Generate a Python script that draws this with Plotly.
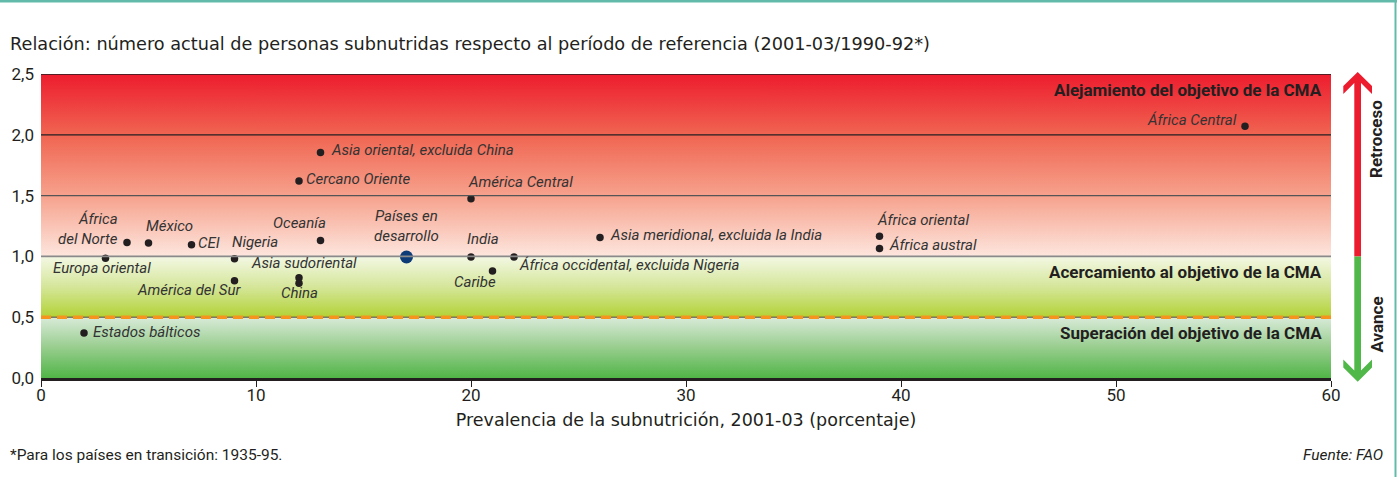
import plotly.graph_objects as go

# ---------------- data ----------------
regions = [
    "Estados bálticos", "Europa oriental", "África del Norte", "México", "CEI",
    "Nigeria", "América del Sur", "Asia sudoriental", "China", "Cercano Oriente",
    "Oceanía", "Asia oriental, excluida China", "América Central", "India",
    "Caribe", "África occidental, excluida Nigeria",
    "Asia meridional, excluida la India", "África oriental", "África austral",
    "África Central",
]
prevalence = [2, 3, 4, 5, 7, 9, 9, 12, 12, 12, 13, 13, 20, 20, 21, 22, 26, 39, 39, 56]
ratio = [0.37, 0.985, 1.115, 1.11, 1.095, 0.98, 0.80, 0.825, 0.78, 1.62,
         1.13, 1.855, 1.475, 0.995, 0.88, 0.995, 1.155, 1.165, 1.065, 2.07]

world_name = "Países en\ndesarrollo"
world_prevalence = [17]
world_ratio = [0.995]

x_ticks = [0, 10, 20, 30, 40, 50, 60]
y_ticks = [0.0, 0.5, 1.0, 1.5, 2.0, 2.5]
y_ticklabels = ["0,0", "0,5", "1,0", "1,5", "2,0", "2,5"]

band_labels = ["Alejamiento del objetivo de la CMA",
               "Acercamiento al objetivo de la CMA",
               "Superación del objetivo de la CMA"]
band_label_y = [2.37, 0.87, 0.37]

title_text = "Relación: número actual de personas subnutridas respecto al período de referencia (2001-03/1990-92*)"
x_title = "Prevalencia de la subnutrición, 2001-03 (porcentaje)"
footnote = "*Para los países en transición: 1935-95."
source = "Fuente: FAO"

# ---------------- layout geometry ----------------
W, H = 1397, 477
ML, MR, MT, MB = 41, 66, 74, 99
PW, PH = W - ML - MR, H - MT - MB
FONT = "Roboto"
WIDE = "DejaVu Sans"
DARK = "#231F20"
TXT = "#333333"


def px(xp):
    return (xp - ML) / PW


def py(yp):
    return (H - MB - yp) / PH


# label offsets (pixels): xanchor, xshift, yshift
label_pos = {
    "Estados bálticos": ("left", 8, 1),
    "Europa oriental": ("center", -4, -10),
    "África del Norte": ("right", -8, 13),
    "México": ("left", -4, 17),
    "CEI": ("left", 5, 2),
    "Nigeria": ("left", -4, 17),
    "América del Sur": ("right", 7, -9),
    "Asia sudoriental": ("center", 5, 15),
    "China": ("center", 0, -10),
    "Cercano Oriente": ("left", 6, 2),
    "Oceanía": ("center", -21, 18),
    "Asia oriental, excluida China": ("left", 9, 2),
    "América Central": ("left", -4, 17),
    "India": ("left", -5, 18),
    "Caribe": ("right", 4, -11),
    "África occidental, excluida Nigeria": ("left", 4, -8),
    "Asia meridional, excluida la India": ("left", 9, 3),
    "África oriental": ("left", -4, 16),
    "África austral": ("left", 8, 4),
    "África Central": ("right", -7, 6),
}
label_text = {"África del Norte": "África\ndel Norte"}
LABEL_SIZE = 15

fig = go.Figure()

# gradient background bands
bands = [
    (1.0, 2.5, [[0, "#FDE6DE"], [0.33, "#F6A28D"], [0.66, "#F06652"], [1, "#ED1C2E"]]),
    (0.5, 1.0, [[0, "#B2D235"], [0.5, "#D5E69A"], [1, "#F3F8E4"]]),
    (0.0, 0.5, [[0, "#50B547"], [0.5, "#98CD8E"], [1, "#D9EBD9"]]),
]
for lo, hi, cs in bands:
    fig.add_trace(go.Scatter(
        x=[0, 60, 60, 0, 0], y=[lo, lo, hi, hi, lo], mode="lines",
        line=dict(width=0), fill="toself",
        fillgradient=dict(type="vertical", colorscale=cs, start=lo, stop=hi),
        hoverinfo="skip", showlegend=False))

# horizontal reference lines
for yv, col, w in [(2.5, DARK, 1.6), (2.0, DARK, 1.2), (1.5, "#555555", 1.2),
                   (1.0, "#8A8A8A", 1.8), (0.5, "#444444", 1.0)]:
    fig.add_shape(type="line", xref="x", yref="y", x0=0, x1=60, y0=yv, y1=yv,
                  line=dict(color=col, width=w), layer="above")
fig.add_shape(type="line", xref="x", yref="y", x0=0, x1=60, y0=0.5, y1=0.5,
              line=dict(color="#F7941E", width=3.5, dash="10px,6px"), layer="above")

# points
fig.add_trace(go.Scatter(
    x=prevalence, y=ratio, mode="markers",
    marker=dict(size=7.5, color=DARK), hoverinfo="text", text=regions,
    showlegend=False, cliponaxis=False))
fig.add_trace(go.Scatter(
    x=world_prevalence, y=world_ratio, mode="markers",
    marker=dict(size=13, color="#0D3B78"), hoverinfo="skip",
    showlegend=False, cliponaxis=False))

annotations = []


def add_label(text, xv, yv, anchor, xs, ys):
    annotations.append(dict(
        x=xv, y=yv, xref="x", yref="y", text=text.replace("\n", "<br>"),
        showarrow=False, xanchor=anchor, yanchor="middle", xshift=xs, yshift=ys,
        align=anchor if anchor != "center" else "center", borderpad=0,
        font=dict(family=FONT, size=LABEL_SIZE, color=TXT, style="italic")))


for name, xv, yv in zip(regions, prevalence, ratio):
    anchor, xs, ys = label_pos[name]
    add_label(label_text.get(name, name), xv, yv, anchor, xs, ys)
add_label(world_name, world_prevalence[0], world_ratio[0], "center", 0, 31)

for t, yv in zip(band_labels, band_label_y):
    annotations.append(dict(
        x=px(1324), y=yv, xref="paper", yref="y", text=f"<b>{t}</b>",
        showarrow=False, xanchor="right", yanchor="middle",
        font=dict(family=FONT, size=17, color=DARK)))

# side arrow labels
annotations.append(dict(x=px(1376), y=py(139), xref="paper", yref="paper",
                        text="<b>Retroceso</b>", textangle=-90, showarrow=False,
                        xanchor="center", yanchor="middle",
                        font=dict(family=FONT, size=17, color=DARK)))
annotations.append(dict(x=px(1376), y=py(324.5), xref="paper", yref="paper",
                        text="<b>Avance</b>", textangle=-90, showarrow=False,
                        xanchor="center", yanchor="middle",
                        font=dict(family=FONT, size=17, color=DARK)))

# title, footnote, source
annotations.append(dict(x=px(8), y=py(44), xref="paper", yref="paper", text=title_text,
                        showarrow=False, xanchor="left", yanchor="middle",
                        font=dict(family=WIDE, size=17.7, color=DARK)))
annotations.append(dict(x=px(8), y=py(455), xref="paper", yref="paper", text=footnote,
                        showarrow=False, xanchor="left", yanchor="middle",
                        font=dict(family=FONT, size=15.5, color=DARK)))
annotations.append(dict(x=px(1385), y=py(455), xref="paper", yref="paper", text=source,
                        showarrow=False, xanchor="right", yanchor="middle",
                        font=dict(family=FONT, size=15.5, color=DARK, style="italic")))


def path(points):
    return "M " + " L ".join(f"{px(a):.5f},{py(b):.5f}" for a, b in points) + " Z"


red_arrow = [(1357.7, 72), (1372, 86), (1372, 94), (1361, 83), (1361, 256.5),
             (1354.3, 256.5), (1354.3, 83), (1343.3, 94), (1343.3, 86)]
green_arrow = [(1357.7, 381.7), (1372, 367.5), (1372, 359.5), (1361, 370.5), (1361, 256.5),
               (1354.3, 256.5), (1354.3, 370.5), (1343.3, 359.5), (1343.3, 367.5)]
fig.add_shape(type="path", xref="paper", yref="paper", path=path(red_arrow),
              fillcolor="#EC1C2E", line=dict(width=0))
fig.add_shape(type="path", xref="paper", yref="paper", path=path(green_arrow),
              fillcolor="#50B848", line=dict(width=0))

# teal frame (top and right)
fig.add_shape(type="line", xref="paper", yref="paper", x0=px(0), x1=px(W), y0=py(1), y1=py(1),
              line=dict(color="#62BBAA", width=3))
fig.add_shape(type="line", xref="paper", yref="paper", x0=px(1395.5), x1=px(1395.5), y0=py(0), y1=py(H),
              line=dict(color="#62BBAA", width=2))

fig.update_layout(
    width=W, height=H, margin=dict(l=ML, r=MR, t=MT, b=MB),
    paper_bgcolor="white", plot_bgcolor="white",
    annotations=annotations, showlegend=False,
    font=dict(family=FONT, color=DARK),
)
fig.update_xaxes(range=[0, 60], tickvals=x_ticks, ticks="outside", ticklen=6,
                 tickcolor=DARK, showgrid=False, zeroline=False,
                 showline=True, linecolor=DARK, linewidth=2.5,
                 ticklabelstandoff=-6,
                 tickfont=dict(family=FONT, size=17, color=DARK),
                 title=dict(text=x_title, font=dict(family=WIDE, size=17.5, color=DARK), standoff=10))
fig.update_yaxes(range=[0, 2.5], tickvals=y_ticks, ticktext=y_ticklabels, showgrid=False,
                 zeroline=False, showline=False, ticks="", ticklabelstandoff=6,
                 tickfont=dict(family=FONT, size=17, color=DARK))

fig.write_html("out.html", config={"displayModeBar": False},
               post_script="document.body.style.margin='0';")
